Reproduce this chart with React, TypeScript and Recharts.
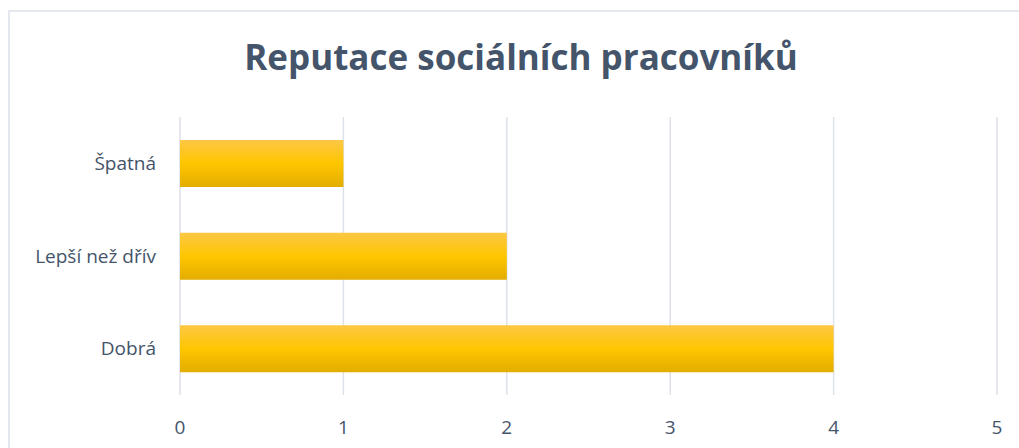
import { BarChart, Bar, XAxis, YAxis, CartesianGrid } from "recharts";

const categories = ["Špatná ", "Lepší než dřív", "Dobrá"];
const counts = [1, 2, 4];
const xTicks = [0, 1, 2, 3, 4, 5];

const data = categories.map((name, i) => ({ name, value: counts[i] }));

const TEXT = "#44546a";

export default function App() {
  return (
    <div
      style={{
        position: "fixed",
        left: 0,
        top: 0,
        width: 1019,
        height: 448,
        overflow: "hidden",
        background: "#fff",
      }}
    >
      {/* chart frame, only top and left edges are in view */}
      <div
        style={{
          position: "absolute",
          left: 8,
          top: 10,
          width: 1100,
          height: 500,
          border: "2px solid #e3e7ee",
          boxSizing: "border-box",
        }}
      />
      <div
        style={{
          position: "absolute",
          left: 0,
          top: 32,
          width: 1042,
          textAlign: "center",
          fontFamily: "'Open Sans', sans-serif",
          fontWeight: 700,
          fontSize: 35,
          lineHeight: "50px",
          color: TEXT,
        }}
      >
        Reputace sociálních pracovníků
      </div>
      <BarChart
        width={1019}
        height={448}
        data={data}
        layout="vertical"
        margin={{ top: 117, right: 22, bottom: 23, left: 0 }}
        style={{ position: "absolute", left: 0, top: 0 }}
      >
        <defs>
          <linearGradient id="goldBar" x1="0" y1="0" x2="0" y2="1">
            <stop offset="0%" stopColor="#fdc745" />
            <stop offset="50%" stopColor="#ffc600" />
            <stop offset="100%" stopColor="#e2ad00" />
          </linearGradient>
        </defs>
        <CartesianGrid
          horizontal={false}
          stroke="#dde1e9"
          strokeWidth={1.5}
        />
        <XAxis
          type="number"
          domain={[0, 5]}
          ticks={xTicks}
          axisLine={false}
          tickLine={false}
          tickMargin={20}
          height={30}
          tick={{
            fill: TEXT,
            fontSize: 19,
            fontFamily: "'Open Sans', sans-serif",
          }}
        />
        <YAxis
          type="category"
          dataKey="name"
          width={180}
          axisLine={false}
          tickLine={false}
          tickMargin={18}
          tick={{
            fill: TEXT,
            fontSize: 19,
            fontFamily: "'Open Sans', sans-serif",
          }}
        />
        <Bar
          dataKey="value"
          fill="url(#goldBar)"
          barSize={47}
          isAnimationActive={false}
        />
      </BarChart>
    </div>
  );
}
